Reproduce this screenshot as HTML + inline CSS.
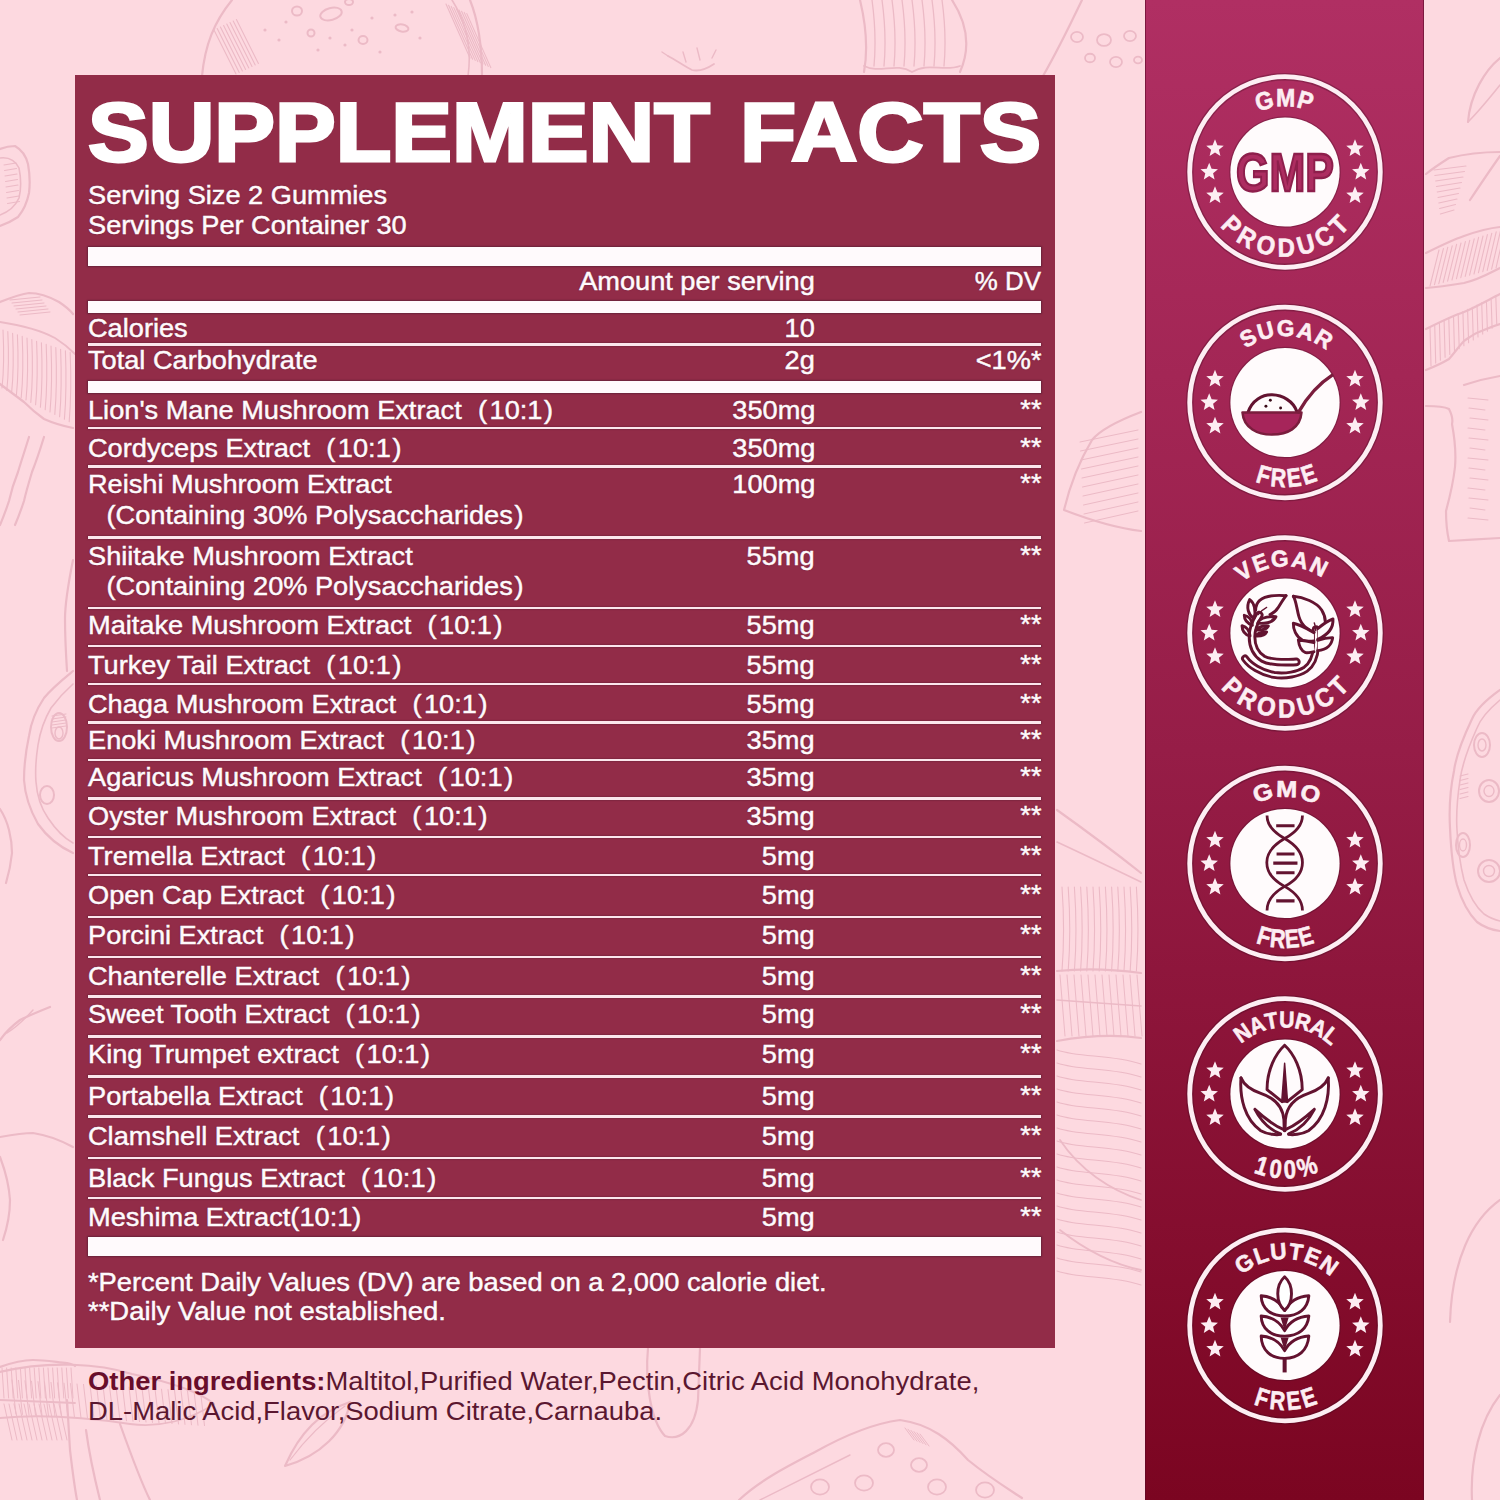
<!DOCTYPE html>
<html><head><meta charset="utf-8">
<style>
*{margin:0;padding:0;box-sizing:border-box}
html,body{width:1500px;height:1500px;overflow:hidden}
body{background:#fdd9e0;position:relative;font-family:"Liberation Sans",sans-serif}
#bg{position:absolute;left:0;top:0}
#panel{position:absolute;left:75px;top:75px;width:980px;height:1273px;background:#922c48}
#strip{position:absolute;left:1145px;top:0;width:279px;height:1500px;background:linear-gradient(180deg,#b02f63 0%,#961d47 50%,#7b0521 100%);box-shadow:inset 1px 0 0 rgba(90,10,40,.6),inset -1px 0 0 rgba(90,10,40,.6)}
.bar{position:absolute;left:88px;width:953.3px;background:#fffafc;box-shadow:0 0 1.2px 0.8px rgba(70,25,45,.5)}
.ln{position:absolute;left:88px;width:953.3px;height:2.3px;background:#fbe6ec;box-shadow:0 0 1.2px 0.6px rgba(70,25,45,.45)}
.t{position:absolute;white-space:nowrap;line-height:1;color:#fffafc;transform:scaleX(1.087);transform-origin:0 0;-webkit-text-stroke:0.45px #fffafc;text-shadow:0 0 1.5px rgba(60,15,35,.55)}
.t.r{transform-origin:100% 0}
.t i{font-style:normal;margin-left:15px;margin-right:2.3px}
.t i.l{margin-left:17px;margin-right:0}
.t b{font-weight:normal;margin-left:1.5px}
#title{position:absolute;left:88px;top:90px;font-size:84px;line-height:1;font-weight:bold;color:#fff;white-space:nowrap;transform:scaleX(1.083);transform-origin:0 0;-webkit-text-stroke:3px #fff;text-shadow:0 0 2px rgba(60,15,35,.6)}
#title2{position:absolute;left:740px;top:90px;font-size:84px;line-height:1;font-weight:bold;color:#fff;white-space:nowrap;transform:scaleX(1.0935);transform-origin:0 0;-webkit-text-stroke:3px #fff;text-shadow:0 0 2px rgba(60,15,35,.6)}
#other{position:absolute;left:88px;top:1366px;font-size:25px;line-height:30px;color:#5b1730;white-space:nowrap;transform:scaleX(1.096);transform-origin:0 0}
#other b{color:#680d2b}
</style></head><body>
<svg id="bg" width="1500" height="1500" viewBox="0 0 1500 1500"><g fill="none" stroke="#ecbac6" stroke-linecap="round" stroke-linejoin="round"><path d="M232,0 C214,22 205,45 202,76" stroke-width="2.2"/><path d="M470,0 C478,20 482,48 482,76" stroke-width="2.2"/><path d="M452,0 C466,22 472,48 468,76" stroke-width="1.6"/><path d="M214.0,30.0 L236.0,74.0" stroke-width="1.1"/><path d="M217.2,28.5 L239.2,72.5" stroke-width="1.1"/><path d="M220.4,27.0 L242.4,71.0" stroke-width="1.1"/><path d="M223.6,25.5 L245.6,69.5" stroke-width="1.1"/><path d="M226.8,24.0 L248.8,68.0" stroke-width="1.1"/><path d="M230.0,22.5 L252.0,66.5" stroke-width="1.1"/><path d="M233.2,21.0 L255.2,65.0" stroke-width="1.1"/><path d="M236.4,19.5 L258.4,63.5" stroke-width="1.1"/><path d="M446.0,4.0 L470.0,58.0" stroke-width="1.1"/><path d="M448.6,5.2 L472.6,59.2" stroke-width="1.1"/><path d="M451.2,6.4 L475.2,60.4" stroke-width="1.1"/><path d="M453.8,7.6 L477.8,61.6" stroke-width="1.1"/><path d="M456.4,8.8 L480.4,62.8" stroke-width="1.1"/><path d="M459.0,10.0 L483.0,64.0" stroke-width="1.1"/><path d="M461.6,11.2 L485.6,65.2" stroke-width="1.1"/><path d="M464.2,12.4 L488.2,66.4" stroke-width="1.1"/><path d="M466.8,13.6 L490.8,67.6" stroke-width="1.1"/><ellipse cx="331" cy="14" rx="11" ry="6" transform="rotate(-15 331 14)" stroke-width="2"/><ellipse cx="297" cy="11" rx="5" ry="4.5" transform="rotate(0 297 11)" stroke-width="2"/><ellipse cx="402" cy="28" rx="6.5" ry="3.5" transform="rotate(10 402 28)" stroke-width="2"/><ellipse cx="363" cy="40" rx="4.5" ry="4" transform="rotate(0 363 40)" stroke-width="2"/><ellipse cx="311" cy="33" rx="3.5" ry="3.5" transform="rotate(0 311 33)" stroke-width="2"/><ellipse cx="349" cy="2" rx="4" ry="3" transform="rotate(0 349 2)" stroke-width="2"/><circle cx="286" cy="22" r="1.6" fill="#ecbac6" stroke="none"/><circle cx="345" cy="45" r="1.6" fill="#ecbac6" stroke="none"/><circle cx="330" cy="38" r="1.6" fill="#ecbac6" stroke="none"/><circle cx="372" cy="18" r="1.6" fill="#ecbac6" stroke="none"/><circle cx="395" cy="15" r="1.6" fill="#ecbac6" stroke="none"/><circle cx="412" cy="12" r="1.6" fill="#ecbac6" stroke="none"/><circle cx="318" cy="50" r="1.6" fill="#ecbac6" stroke="none"/><circle cx="265" cy="30" r="1.6" fill="#ecbac6" stroke="none"/><circle cx="279" cy="40" r="1.6" fill="#ecbac6" stroke="none"/><circle cx="380" cy="52" r="1.6" fill="#ecbac6" stroke="none"/><circle cx="420" cy="38" r="1.6" fill="#ecbac6" stroke="none"/><circle cx="352" cy="30" r="1.6" fill="#ecbac6" stroke="none"/><path d="M668,56 C676,60 684,66 692,70 C700,72 708,68 714,64" stroke-width="1.8"/><path d="M683,52 L686,62 M697,48 L700,60 M712,58 L716,50 M668,56 L662,52" stroke-width="1.4"/><path d="M860,0 C866,25 868,50 864,72" stroke-width="2.2"/><path d="M952,0 C965,20 972,45 960,72" stroke-width="2.2"/><path d="M872,0 C875,22 876,44 874,66" stroke-width="1.3"/><path d="M882,0 C885,22 886,44 884,66" stroke-width="1.3"/><path d="M892,0 C895,22 896,44 894,66" stroke-width="1.3"/><path d="M902,0 C905,22 906,44 904,66" stroke-width="1.3"/><path d="M912,0 C915,22 916,44 914,66" stroke-width="1.3"/><path d="M922,0 C925,22 926,44 924,66" stroke-width="1.3"/><path d="M932,0 C935,22 936,44 934,66" stroke-width="1.3"/><path d="M942,0 C945,22 946,44 944,66" stroke-width="1.3"/><path d="M864,66 C880,74 896,62 912,72 C928,62 944,72 960,66" stroke-width="1.8"/><path d="M1082,0 C1070,25 1058,50 1043,76" stroke-width="2.2"/><ellipse cx="1077" cy="37" rx="6" ry="5.1" transform="rotate(0 1077 37)" stroke-width="1.8"/><ellipse cx="1104" cy="40" rx="7" ry="5.95" transform="rotate(0 1104 40)" stroke-width="1.8"/><ellipse cx="1130" cy="36" rx="6" ry="5.1" transform="rotate(0 1130 36)" stroke-width="1.8"/><ellipse cx="1090" cy="58" rx="5" ry="4.25" transform="rotate(0 1090 58)" stroke-width="1.8"/><ellipse cx="1116" cy="62" rx="6" ry="5.1" transform="rotate(0 1116 62)" stroke-width="1.8"/><ellipse cx="1138" cy="60" rx="4" ry="3.4" transform="rotate(0 1138 60)" stroke-width="1.8"/><path d="M1468,122 C1470,95 1485,70 1500,58" stroke-width="2.2"/><path d="M1468,122 C1480,110 1492,95 1500,85" stroke-width="1.6"/><path d="M1426,174 C1436,166 1446,160 1449,158 C1465,154 1485,152 1500,152" stroke-width="2.2"/><path d="M1470,200 C1480,185 1490,170 1500,156" stroke-width="2.2"/><path d="M1434.0,170.0 L1466.0,166.0" stroke-width="1.1"/><path d="M1434.8,175.5 L1464.5,171.5" stroke-width="1.1"/><path d="M1435.6,181.0 L1463.0,177.0" stroke-width="1.1"/><path d="M1436.4,186.5 L1461.5,182.5" stroke-width="1.1"/><path d="M1437.2,192.0 L1460.0,188.0" stroke-width="1.1"/><path d="M1438.0,197.5 L1458.5,193.5" stroke-width="1.1"/><path d="M1438.8,203.0 L1457.0,199.0" stroke-width="1.1"/><path d="M1439.6,208.5 L1455.5,204.5" stroke-width="1.1"/><path d="M1440.4,214.0 L1454.0,210.0" stroke-width="1.1"/><path d="M1426,253 C1440,246 1452,240 1464,236 C1478,231 1490,228 1500,227" stroke-width="2.2"/><path d="M1426,288 C1440,287 1452,285 1464,283 C1478,280 1490,273 1500,268" stroke-width="2.2"/><path d="M1430.0,286.0 L1439.0,250.0" stroke-width="1.1"/><path d="M1434.4,284.8 L1443.4,248.6" stroke-width="1.1"/><path d="M1438.8,283.6 L1447.8,247.2" stroke-width="1.1"/><path d="M1443.2,282.4 L1452.2,245.8" stroke-width="1.1"/><path d="M1447.6,281.2 L1456.6,244.4" stroke-width="1.1"/><path d="M1452.0,280.0 L1461.0,243.0" stroke-width="1.1"/><path d="M1456.4,278.8 L1465.4,241.6" stroke-width="1.1"/><path d="M1460.8,277.6 L1469.8,240.2" stroke-width="1.1"/><path d="M1465.2,276.4 L1474.2,238.8" stroke-width="1.1"/><path d="M1469.6,275.2 L1478.6,237.4" stroke-width="1.1"/><path d="M1474.0,274.0 L1483.0,236.0" stroke-width="1.1"/><path d="M1478.4,272.8 L1487.4,234.6" stroke-width="1.1"/><path d="M1482.8,271.6 L1491.8,233.2" stroke-width="1.1"/><path d="M1487.2,270.4 L1496.2,231.8" stroke-width="1.1"/><path d="M1491.6,269.2 L1500.6,230.4" stroke-width="1.1"/><path d="M1496.0,268.0 L1505.0,229.0" stroke-width="1.1"/><path d="M1426,329 C1440,322 1452,316 1464,312 C1478,306 1490,299 1500,294" stroke-width="2.2"/><path d="M1426,370 C1436,366 1444,362 1449,359 C1455,352 1460,345 1464,341 C1470,337 1475,333 1479,332 C1486,329 1493,326 1500,324" stroke-width="2.2"/><path d="M1430.0,327.0 L1431.0,366.0" stroke-width="1.1"/><path d="M1434.7,324.8 L1435.7,363.1" stroke-width="1.1"/><path d="M1439.4,322.6 L1440.4,360.2" stroke-width="1.1"/><path d="M1444.1,320.4 L1445.1,357.3" stroke-width="1.1"/><path d="M1448.8,318.2 L1449.8,354.4" stroke-width="1.1"/><path d="M1453.5,316.0 L1454.5,351.5" stroke-width="1.1"/><path d="M1458.2,313.8 L1459.2,348.6" stroke-width="1.1"/><path d="M1462.9,311.6 L1463.9,345.7" stroke-width="1.1"/><path d="M1467.6,309.4 L1468.6,342.8" stroke-width="1.1"/><path d="M1472.3,307.2 L1473.3,339.9" stroke-width="1.1"/><path d="M1477.0,305.0 L1478.0,337.0" stroke-width="1.1"/><path d="M1481.7,302.8 L1482.7,334.1" stroke-width="1.1"/><path d="M1486.4,300.6 L1487.4,331.2" stroke-width="1.1"/><path d="M1491.1,298.4 L1492.1,328.3" stroke-width="1.1"/><path d="M1495.8,296.2 L1496.8,325.4" stroke-width="1.1"/><path d="M1426,406 C1436,406 1445,407 1449,409 C1452,415 1453,420 1452,424 C1455,440 1456,455 1455,467 C1453,485 1449,500 1446,511 C1446,522 1447,532 1449,541 C1465,540 1485,539 1500,538" stroke-width="2.2"/><path d="M1464,385 C1476,381 1488,378 1500,376" stroke-width="2.2"/><path d="M1468.0,398.0 L1488.0,400.0" stroke-width="1.1"/><path d="M1469.0,408.0 L1485.0,410.0" stroke-width="1.1"/><path d="M1470.0,418.0 L1488.0,420.0" stroke-width="1.1"/><path d="M1468.0,428.0 L1485.0,430.0" stroke-width="1.1"/><path d="M1469.0,438.0 L1488.0,440.0" stroke-width="1.1"/><path d="M1470.0,448.0 L1485.0,450.0" stroke-width="1.1"/><path d="M1468.0,458.0 L1488.0,460.0" stroke-width="1.1"/><path d="M1469.0,468.0 L1485.0,470.0" stroke-width="1.1"/><path d="M1470.0,478.0 L1488.0,480.0" stroke-width="1.1"/><path d="M1468.0,488.0 L1485.0,490.0" stroke-width="1.1"/><path d="M1469.0,498.0 L1488.0,500.0" stroke-width="1.1"/><path d="M1470.0,508.0 L1485.0,510.0" stroke-width="1.1"/><path d="M1468.0,518.0 L1488.0,520.0" stroke-width="1.1"/><path d="M1500,690 C1486,700 1476,710 1472,719 C1462,740 1456,755 1454,771 C1450,790 1449,810 1450,828 C1451,850 1453,870 1457,885 C1463,905 1470,915 1477,922 C1485,928 1493,930 1500,931" stroke-width="2.2"/><path d="M1500,700 C1488,710 1480,720 1477,728 C1468,748 1462,765 1460,780 C1457,800 1456,815 1457,830 C1458,850 1461,868 1464,880 C1470,898 1477,908 1484,914 C1490,918 1495,920 1500,921" stroke-width="1.6"/><ellipse cx="1482" cy="745" rx="8" ry="12" transform="rotate(0 1482 745)" stroke-width="2"/><ellipse cx="1482" cy="745" rx="4.0" ry="6.0" transform="rotate(0 1482 745)" stroke-width="1.4"/><ellipse cx="1489" cy="791" rx="10" ry="11" transform="rotate(0 1489 791)" stroke-width="2"/><ellipse cx="1489" cy="791" rx="5.0" ry="5.5" transform="rotate(0 1489 791)" stroke-width="1.4"/><ellipse cx="1463" cy="845" rx="7" ry="12" transform="rotate(0 1463 845)" stroke-width="2"/><ellipse cx="1463" cy="845" rx="3.5" ry="6.0" transform="rotate(0 1463 845)" stroke-width="1.4"/><ellipse cx="1489" cy="871" rx="11" ry="11" transform="rotate(0 1489 871)" stroke-width="2"/><ellipse cx="1489" cy="871" rx="5.5" ry="5.5" transform="rotate(0 1489 871)" stroke-width="1.4"/><path d="M1460.0,776.0 L1468.0,774.0" stroke-width="1.1"/><path d="M1460.0,780.5 L1468.0,778.5" stroke-width="1.1"/><path d="M1460.0,785.0 L1468.0,783.0" stroke-width="1.1"/><path d="M1460.0,789.5 L1468.0,787.5" stroke-width="1.1"/><path d="M1460.0,794.0 L1468.0,792.0" stroke-width="1.1"/><path d="M1460.0,798.5 L1468.0,796.5" stroke-width="1.1"/><path d="M1500,1200 C1472,1220 1452,1260 1450,1322" stroke-width="2.2"/><path d="M1500,1395 C1480,1420 1470,1460 1472,1500" stroke-width="2.2"/><path d="M0,149 C5,147 10,146 15,146 C22,150 26,156 28,164 C30,175 30,185 29,193 C27,203 23,211 18,217 C12,221 6,224 0,226" stroke-width="2.2"/><path d="M0,158 C8,157 15,160 19,168 C21,178 21,190 19,198 C15,207 8,212 0,215" stroke-width="1.6"/><path d="M4.0,165.0 L16.0,163.0" stroke-width="1.1"/><path d="M4.5,170.5 L16.5,168.5" stroke-width="1.1"/><path d="M5.0,176.0 L17.0,174.0" stroke-width="1.1"/><path d="M5.5,181.5 L17.5,179.5" stroke-width="1.1"/><path d="M6.0,187.0 L18.0,185.0" stroke-width="1.1"/><path d="M6.5,192.5 L18.5,190.5" stroke-width="1.1"/><path d="M7.0,198.0 L19.0,196.0" stroke-width="1.1"/><path d="M7.5,203.5 L19.5,201.5" stroke-width="1.1"/><path d="M0,302 C10,298 20,294 29,293 C40,293 50,297 59,302 C65,306 70,310 73,314" stroke-width="2.2"/><path d="M0,322 C20,325 40,330 55,338 C63,343 70,349 75,354" stroke-width="1.8"/><path d="M0,384 C8,390 16,396 24,402 C30,408 37,414 44,419 C53,423 63,426 73,428" stroke-width="2.2"/><path d="M3.0,330.0 C4.0,350.0 4.0,370.0 2.0,388.0" stroke-width="1.1"/><path d="M7.8,331.6 C8.8,352.0 8.8,372.0 6.8,390.4" stroke-width="1.1"/><path d="M12.6,333.2 C13.6,354.0 13.6,374.0 11.6,392.8" stroke-width="1.1"/><path d="M17.4,334.8 C18.4,356.0 18.4,376.0 16.4,395.2" stroke-width="1.1"/><path d="M22.2,336.4 C23.2,358.0 23.2,378.0 21.2,397.6" stroke-width="1.1"/><path d="M27.0,338.0 C28.0,360.0 28.0,380.0 26.0,400.0" stroke-width="1.1"/><path d="M31.8,339.6 C32.8,362.0 32.8,382.0 30.8,402.4" stroke-width="1.1"/><path d="M36.6,341.2 C37.6,364.0 37.6,384.0 35.6,404.8" stroke-width="1.1"/><path d="M41.4,342.8 C42.4,366.0 42.4,386.0 40.4,407.2" stroke-width="1.1"/><path d="M46.2,344.4 C47.2,368.0 47.2,388.0 45.2,409.6" stroke-width="1.1"/><path d="M51.0,346.0 C52.0,370.0 52.0,390.0 50.0,412.0" stroke-width="1.1"/><path d="M55.8,347.6 C56.8,372.0 56.8,392.0 54.8,414.4" stroke-width="1.1"/><path d="M60.6,349.2 C61.6,374.0 61.6,394.0 59.6,416.8" stroke-width="1.1"/><path d="M65.4,350.8 C66.4,376.0 66.4,396.0 64.4,419.2" stroke-width="1.1"/><path d="M70.2,352.4 C71.2,378.0 71.2,398.0 69.2,421.6" stroke-width="1.1"/><path d="M10.0,300.0 L40.0,297.0" stroke-width="1.0"/><path d="M12.0,303.0 L42.0,300.0" stroke-width="1.0"/><path d="M14.0,306.0 L44.0,303.0" stroke-width="1.0"/><path d="M16.0,309.0 L46.0,306.0" stroke-width="1.0"/><path d="M18.0,312.0 L48.0,309.0" stroke-width="1.0"/><path d="M20.0,315.0 L50.0,312.0" stroke-width="1.0"/><path d="M29,437 C25,450 21,462 18,472 C14,482 11,492 9,501 C6,510 3,518 0,525" stroke-width="2.2"/><path d="M44,437 C40,450 36,462 32,472 C29,482 26,492 24,501 C21,510 18,518 15,525" stroke-width="2.2"/><path d="M73,560 C69,580 65,600 65,619 C65,637 66,655 67,671" stroke-width="2.2"/><path d="M73,671 C62,680 52,688 44,698 C36,710 31,722 29,736 C26,750 24,765 24,780 C25,795 30,810 38,824 C48,838 60,847 73,853" stroke-width="2.2"/><path d="M73,684 C64,692 57,700 51,708 C44,720 40,732 38,745 C36,758 35,770 36,782 C37,796 41,808 48,818 C56,830 64,838 73,843" stroke-width="1.6"/><ellipse cx="59" cy="727" rx="8" ry="14" transform="rotate(0 59 727)" stroke-width="2"/><ellipse cx="59" cy="733" rx="4" ry="6" transform="rotate(0 59 733)" stroke-width="1.4"/><path d="M52.0,716.0 L66.0,714.0" stroke-width="1.0"/><path d="M52.0,719.0 L66.0,717.0" stroke-width="1.0"/><path d="M52.0,722.0 L66.0,720.0" stroke-width="1.0"/><path d="M52.0,725.0 L66.0,723.0" stroke-width="1.0"/><path d="M52.0,728.0 L66.0,726.0" stroke-width="1.0"/><ellipse cx="47" cy="795" rx="7" ry="9" transform="rotate(0 47 795)" stroke-width="2"/><path d="M0,809 C4,815 7,822 9,830 C11,838 12,846 12,853 C11,863 9,873 6,883" stroke-width="2.2"/><path d="M50,1007 C40,1011 30,1015 20,1020 C12,1026 5,1033 0,1040" stroke-width="2.2"/><path d="M33,1010 C24,1020 15,1028 7,1033" stroke-width="1.4"/><path d="M0,1137 C11,1135 22,1133 33,1133 C47,1135 60,1140 73,1147" stroke-width="2.2"/><path d="M0,1157 C5,1170 9,1185 10,1200 C10,1215 7,1228 3,1240" stroke-width="2.2"/><path d="M0,1367 C11,1363 22,1360 33,1360 C45,1360 56,1362 67,1363 C71,1364 74,1365 75,1366" stroke-width="2.2"/><path d="M0,1400 C27,1401 53,1402 75,1403" stroke-width="1.8"/><path d="M2.0,1368.0 L4.0,1398.0" stroke-width="1.0"/><path d="M6.6,1368.0 L8.6,1398.0" stroke-width="1.0"/><path d="M11.2,1368.0 L13.2,1398.0" stroke-width="1.0"/><path d="M15.8,1368.0 L17.8,1398.0" stroke-width="1.0"/><path d="M20.4,1368.0 L22.4,1398.0" stroke-width="1.0"/><path d="M25.0,1368.0 L27.0,1398.0" stroke-width="1.0"/><path d="M29.6,1368.0 L31.6,1398.0" stroke-width="1.0"/><path d="M34.2,1368.0 L36.2,1398.0" stroke-width="1.0"/><path d="M38.8,1368.0 L40.8,1398.0" stroke-width="1.0"/><path d="M43.4,1368.0 L45.4,1398.0" stroke-width="1.0"/><path d="M48.0,1368.0 L50.0,1398.0" stroke-width="1.0"/><path d="M52.6,1368.0 L54.6,1398.0" stroke-width="1.0"/><path d="M57.2,1368.0 L59.2,1398.0" stroke-width="1.0"/><path d="M61.8,1368.0 L63.8,1398.0" stroke-width="1.0"/><path d="M66.4,1368.0 L68.4,1398.0" stroke-width="1.0"/><path d="M71.0,1368.0 L73.0,1398.0" stroke-width="1.0"/><path d="M4.0,1404.0 L12.0,1440.0" stroke-width="1.0"/><path d="M9.0,1404.0 L17.0,1440.0" stroke-width="1.0"/><path d="M14.0,1404.0 L22.0,1440.0" stroke-width="1.0"/><path d="M19.0,1404.0 L27.0,1440.0" stroke-width="1.0"/><path d="M24.0,1404.0 L32.0,1440.0" stroke-width="1.0"/><path d="M29.0,1404.0 L37.0,1440.0" stroke-width="1.0"/><path d="M34.0,1404.0 L42.0,1440.0" stroke-width="1.0"/><path d="M39.0,1404.0 L47.0,1440.0" stroke-width="1.0"/><path d="M44.0,1404.0 L52.0,1440.0" stroke-width="1.0"/><path d="M49.0,1404.0 L57.0,1440.0" stroke-width="1.0"/><path d="M54.0,1404.0 L62.0,1440.0" stroke-width="1.0"/><path d="M59.0,1404.0 L67.0,1440.0" stroke-width="1.0"/><path d="M67,1400 C68,1417 69,1434 70,1450 C72,1467 74,1484 77,1500" stroke-width="2.2"/><path d="M0,1372 C50,1360 100,1364 132,1374 C170,1382 200,1392 214,1404" stroke-width="2.2"/><path d="M0,1418 C40,1414 90,1418 130,1424 C160,1428 190,1420 214,1404" stroke-width="1.8"/><path d="M12.0,1380.0 L16.0,1414.0" stroke-width="1.0"/><path d="M18.5,1380.4 L22.5,1414.4" stroke-width="1.0"/><path d="M25.0,1380.8 L29.0,1414.8" stroke-width="1.0"/><path d="M31.5,1381.2 L35.5,1415.2" stroke-width="1.0"/><path d="M38.0,1381.6 L42.0,1415.6" stroke-width="1.0"/><path d="M44.5,1382.0 L48.5,1416.0" stroke-width="1.0"/><path d="M51.0,1382.4 L55.0,1416.4" stroke-width="1.0"/><path d="M57.5,1382.8 L61.5,1416.8" stroke-width="1.0"/><path d="M64.0,1383.2 L68.0,1417.2" stroke-width="1.0"/><path d="M70.5,1383.6 L74.5,1417.6" stroke-width="1.0"/><path d="M77.0,1384.0 L81.0,1418.0" stroke-width="1.0"/><path d="M83.5,1384.4 L87.5,1418.4" stroke-width="1.0"/><path d="M90.0,1384.8 L94.0,1418.8" stroke-width="1.0"/><path d="M96.5,1385.2 L100.5,1419.2" stroke-width="1.0"/><path d="M103.0,1385.6 L107.0,1419.6" stroke-width="1.0"/><path d="M109.5,1386.0 L113.5,1420.0" stroke-width="1.0"/><path d="M116.0,1386.4 L120.0,1420.4" stroke-width="1.0"/><path d="M122.5,1386.8 L126.5,1420.8" stroke-width="1.0"/><path d="M129.0,1387.2 L133.0,1421.2" stroke-width="1.0"/><path d="M135.5,1387.6 L139.5,1421.6" stroke-width="1.0"/><path d="M142.0,1388.0 L146.0,1422.0" stroke-width="1.0"/><path d="M148.5,1388.4 L152.5,1422.4" stroke-width="1.0"/><path d="M155.0,1388.8 L159.0,1422.8" stroke-width="1.0"/><path d="M161.5,1389.2 L165.5,1423.2" stroke-width="1.0"/><path d="M168.0,1389.6 L172.0,1423.6" stroke-width="1.0"/><path d="M174.5,1390.0 L178.5,1424.0" stroke-width="1.0"/><path d="M181.0,1390.4 L185.0,1424.4" stroke-width="1.0"/><path d="M187.5,1390.8 L191.5,1424.8" stroke-width="1.0"/><path d="M194.0,1391.2 L198.0,1425.2" stroke-width="1.0"/><path d="M200.5,1391.6 L204.5,1425.6" stroke-width="1.0"/><path d="M120,1424 C130,1452 140,1480 150,1500" stroke-width="2.2"/><path d="M86,1430 C90,1460 95,1480 100,1500" stroke-width="2.2"/><path d="M285,1466 C300,1432 320,1412 350,1402 C345,1432 320,1456 285,1466 Z" stroke-width="2.2"/><path d="M290,1460 C305,1440 325,1420 345,1406" stroke-width="1.2"/><path d="M648,1348 C645,1380 650,1420 665,1436 C680,1441 695,1430 698,1400 L700,1348" stroke-width="2.2"/><path d="M739,1500 C760,1480 790,1465 815,1452 C840,1438 870,1424 900,1420 C930,1424 950,1440 968,1460 C990,1478 1010,1490 1022,1498" stroke-width="2.2"/><path d="M760,1500 C790,1485 820,1470 850,1455" stroke-width="1.4"/><ellipse cx="886" cy="1450" rx="8" ry="6.8" transform="rotate(0 886 1450)" stroke-width="1.8"/><ellipse cx="919" cy="1465" rx="8" ry="6.8" transform="rotate(0 919 1465)" stroke-width="1.8"/><ellipse cx="820" cy="1487" rx="9" ry="7.6499999999999995" transform="rotate(0 820 1487)" stroke-width="1.8"/><ellipse cx="864" cy="1483" rx="9" ry="7.6499999999999995" transform="rotate(0 864 1483)" stroke-width="1.8"/><ellipse cx="937" cy="1487" rx="9" ry="7.6499999999999995" transform="rotate(0 937 1487)" stroke-width="1.8"/><ellipse cx="985" cy="1490" rx="9" ry="7.6499999999999995" transform="rotate(0 985 1490)" stroke-width="1.8"/><path d="M905.0,1428.0 L914.0,1440.0" stroke-width="1.0"/><path d="M908.0,1429.2 L917.0,1441.2" stroke-width="1.0"/><path d="M911.0,1430.4 L920.0,1442.4" stroke-width="1.0"/><path d="M914.0,1431.6 L923.0,1443.6" stroke-width="1.0"/><path d="M917.0,1432.8 L926.0,1444.8" stroke-width="1.0"/><path d="M920.0,1434.0 L929.0,1446.0" stroke-width="1.0"/><path d="M1141,412 C1120,420 1100,430 1092,440 C1080,460 1070,485 1064,510 C1090,520 1115,528 1141,531" stroke-width="2.2"/><path d="M1080.0,442.0 L1138.0,430.0" stroke-width="1.0"/><path d="M1080.5,451.0 L1138.0,439.0" stroke-width="1.0"/><path d="M1081.0,460.0 L1138.0,448.0" stroke-width="1.0"/><path d="M1081.5,469.0 L1138.0,457.0" stroke-width="1.0"/><path d="M1082.0,478.0 L1138.0,466.0" stroke-width="1.0"/><path d="M1082.5,487.0 L1138.0,475.0" stroke-width="1.0"/><path d="M1083.0,496.0 L1138.0,484.0" stroke-width="1.0"/><path d="M1083.5,505.0 L1138.0,493.0" stroke-width="1.0"/><path d="M1084.0,514.0 L1138.0,502.0" stroke-width="1.0"/><path d="M1084.5,523.0 L1138.0,511.0" stroke-width="1.0"/><path d="M1057,810 C1085,830 1112,850 1141,873" stroke-width="2.2"/><path d="M1057,842 C1085,855 1112,868 1141,882" stroke-width="1.6"/><path d="M1062.0,887.0 C1064.0,915.0 1064.0,945.0 1062.0,971.0" stroke-width="1.1"/><path d="M1068.2,887.0 C1070.2,915.0 1070.2,945.0 1068.2,971.0" stroke-width="1.1"/><path d="M1074.4,887.0 C1076.4,915.0 1076.4,945.0 1074.4,971.0" stroke-width="1.1"/><path d="M1080.6,887.0 C1082.6,915.0 1082.6,945.0 1080.6,971.0" stroke-width="1.1"/><path d="M1086.8,887.0 C1088.8,915.0 1088.8,945.0 1086.8,971.0" stroke-width="1.1"/><path d="M1093.0,887.0 C1095.0,915.0 1095.0,945.0 1093.0,971.0" stroke-width="1.1"/><path d="M1099.2,887.0 C1101.2,915.0 1101.2,945.0 1099.2,971.0" stroke-width="1.1"/><path d="M1105.4,887.0 C1107.4,915.0 1107.4,945.0 1105.4,971.0" stroke-width="1.1"/><path d="M1111.6,887.0 C1113.6,915.0 1113.6,945.0 1111.6,971.0" stroke-width="1.1"/><path d="M1117.8,887.0 C1119.8,915.0 1119.8,945.0 1117.8,971.0" stroke-width="1.1"/><path d="M1124.0,887.0 C1126.0,915.0 1126.0,945.0 1124.0,971.0" stroke-width="1.1"/><path d="M1130.2,887.0 C1132.2,915.0 1132.2,945.0 1130.2,971.0" stroke-width="1.1"/><path d="M1136.4,887.0 C1138.4,915.0 1138.4,945.0 1136.4,971.0" stroke-width="1.1"/><path d="M1057,971 C1085,968 1112,969 1141,973" stroke-width="2.2"/><path d="M1057,1000 C1085,1002 1112,1004 1141,1006" stroke-width="1.6"/><path d="M1057,1041 C1085,1036 1112,1034 1141,1038" stroke-width="2.2"/><path d="M1060.0,975.0 L1065.0,1036.0" stroke-width="1.0"/><path d="M1067.0,975.0 L1072.0,1036.0" stroke-width="1.0"/><path d="M1074.0,975.0 L1079.0,1036.0" stroke-width="1.0"/><path d="M1081.0,975.0 L1086.0,1036.0" stroke-width="1.0"/><path d="M1088.0,975.0 L1093.0,1036.0" stroke-width="1.0"/><path d="M1095.0,975.0 L1100.0,1036.0" stroke-width="1.0"/><path d="M1102.0,975.0 L1107.0,1036.0" stroke-width="1.0"/><path d="M1109.0,975.0 L1114.0,1036.0" stroke-width="1.0"/><path d="M1116.0,975.0 L1121.0,1036.0" stroke-width="1.0"/><path d="M1123.0,975.0 L1128.0,1036.0" stroke-width="1.0"/><path d="M1130.0,975.0 L1135.0,1036.0" stroke-width="1.0"/><path d="M1137.0,975.0 L1142.0,1036.0" stroke-width="1.0"/><path d="M1057,1050.0 C1080,1058.0 1110,1054.0 1141,1064.0" stroke-width="1.1"/><path d="M1057,1063.0 C1080,1071.0 1110,1067.0 1141,1077.0" stroke-width="1.1"/><path d="M1057,1076.0 C1080,1084.0 1110,1080.0 1141,1090.0" stroke-width="1.1"/><path d="M1057,1089.0 C1080,1097.0 1110,1093.0 1141,1103.0" stroke-width="1.1"/><path d="M1057,1102.0 C1080,1110.0 1110,1106.0 1141,1116.0" stroke-width="1.1"/><path d="M1057,1115.0 C1080,1123.0 1110,1119.0 1141,1129.0" stroke-width="1.1"/><path d="M1057,1128.0 C1080,1136.0 1110,1132.0 1141,1142.0" stroke-width="1.1"/><path d="M1057,1141.0 C1080,1149.0 1110,1145.0 1141,1155.0" stroke-width="1.1"/><path d="M1057,1154.0 C1080,1162.0 1110,1158.0 1141,1168.0" stroke-width="1.1"/><path d="M1057,1167.0 C1080,1175.0 1110,1171.0 1141,1181.0" stroke-width="1.1"/><path d="M1057,1180.0 C1080,1188.0 1110,1184.0 1141,1194.0" stroke-width="1.1"/><path d="M1057,1193.0 C1080,1201.0 1110,1197.0 1141,1207.0" stroke-width="1.1"/><path d="M1057,1206.0 C1080,1214.0 1110,1210.0 1141,1220.0" stroke-width="1.1"/><path d="M1057,1219.0 C1080,1227.0 1110,1223.0 1141,1233.0" stroke-width="1.1"/><path d="M1057,1232.0 C1080,1240.0 1110,1236.0 1141,1246.0" stroke-width="1.1"/><path d="M1057,1245.0 C1080,1253.0 1110,1249.0 1141,1259.0" stroke-width="1.1"/><path d="M1057,1258.0 C1080,1266.0 1110,1262.0 1141,1272.0" stroke-width="1.1"/><path d="M1057,1271.0 C1080,1279.0 1110,1275.0 1141,1285.0" stroke-width="1.1"/><path d="M1060,1140 C1080,1170 1110,1190 1141,1200" stroke-width="1.8"/><path d="M1060,1230 C1085,1250 1115,1265 1141,1270" stroke-width="1.8"/></g></svg>
<div id="panel"></div>
<div id="title">SUPPLEMENT</div><div id="title2" class="tt">FACTS</div>
<div class="bar" style="top:246.9px;height:18.7px"></div>
<div class="bar" style="top:300.7px;height:12.1px"></div>
<div class="bar" style="top:381.2px;height:11.5px"></div>
<div class="bar" style="top:1236.7px;height:19.2px"></div>
<div class="ln" style="top:343.3px"></div>
<div class="ln" style="top:426.8px"></div>
<div class="ln" style="top:465.4px"></div>
<div class="ln" style="top:536.4px"></div>
<div class="ln" style="top:606.9px"></div>
<div class="ln" style="top:644.9px"></div>
<div class="ln" style="top:682.9px"></div>
<div class="ln" style="top:721.3px"></div>
<div class="ln" style="top:758.9px"></div>
<div class="ln" style="top:797.3px"></div>
<div class="ln" style="top:835.5px"></div>
<div class="ln" style="top:873.9px"></div>
<div class="ln" style="top:915.5px"></div>
<div class="ln" style="top:955.5px"></div>
<div class="ln" style="top:995.3px"></div>
<div class="ln" style="top:1035.3px"></div>
<div class="ln" style="top:1075.3px"></div>
<div class="ln" style="top:1115.3px"></div>
<div class="ln" style="top:1156.9px"></div>
<div class="ln" style="top:1196.9px"></div>
<div class="t" style="left:88px;top:183.3px;font-size:25px;">Serving Size 2 Gummies</div>
<div class="t" style="left:88px;top:213.3px;font-size:25px;">Servings Per Container 30</div>
<div class="t r" style="right:685px;top:269.3px;font-size:25px;">Amount per serving</div>
<div class="t r" style="right:459px;top:269.3px;font-size:25px;transform:scaleX(1.035)">% DV</div>
<div class="t" style="left:88px;top:315.8px;font-size:25px;">Calories</div>
<div class="t r" style="right:685px;top:315.8px;font-size:25px;">10</div>
<div class="t" style="left:88px;top:348.3px;font-size:25px;">Total Carbohydrate</div>
<div class="t r" style="right:685px;top:348.3px;font-size:25px;">2g</div>
<div class="t r" style="right:459px;top:348.3px;font-size:25px;">&lt;1%*</div>
<div class="t" style="left:88px;top:397.8px;font-size:25px;">Lion's Mane Mushroom Extract<i>(</i>10:1<b>)</b></div>
<div class="t r" style="right:685px;top:397.8px;font-size:25px;">350mg</div>
<div class="t st r" style="right:459px;top:396.8px;font-size:25px;">**</div>
<div class="t" style="left:88px;top:435.8px;font-size:25px;">Cordyceps Extract<i>(</i>10:1<b>)</b></div>
<div class="t r" style="right:685px;top:435.8px;font-size:25px;">350mg</div>
<div class="t st r" style="right:459px;top:434.8px;font-size:25px;">**</div>
<div class="t" style="left:88px;top:472.3px;font-size:25px;">Reishi Mushroom Extract</div>
<div class="t r" style="right:685px;top:472.3px;font-size:25px;">100mg</div>
<div class="t st r" style="right:459px;top:471.3px;font-size:25px;">**</div>
<div class="t" style="left:88px;top:502.8px;font-size:25px;"><i class=l>(</i>Containing 30% Polysaccharides<b>)</b></div>
<div class="t" style="left:88px;top:543.8px;font-size:25px;">Shiitake Mushroom Extract</div>
<div class="t r" style="right:685px;top:543.8px;font-size:25px;">55mg</div>
<div class="t st r" style="right:459px;top:542.8px;font-size:25px;">**</div>
<div class="t" style="left:88px;top:574.3px;font-size:25px;"><i class=l>(</i>Containing 20% Polysaccharides<b>)</b></div>
<div class="t" style="left:88px;top:613.3px;font-size:25px;">Maitake Mushroom Extract<i>(</i>10:1<b>)</b></div>
<div class="t r" style="right:685px;top:613.3px;font-size:25px;">55mg</div>
<div class="t st r" style="right:459px;top:612.3px;font-size:25px;">**</div>
<div class="t" style="left:88px;top:653.3px;font-size:25px;">Turkey Tail Extract<i>(</i>10:1<b>)</b></div>
<div class="t r" style="right:685px;top:653.3px;font-size:25px;">55mg</div>
<div class="t st r" style="right:459px;top:652.3px;font-size:25px;">**</div>
<div class="t" style="left:88px;top:692.3px;font-size:25px;">Chaga Mushroom Extract<i>(</i>10:1<b>)</b></div>
<div class="t r" style="right:685px;top:692.3px;font-size:25px;">55mg</div>
<div class="t st r" style="right:459px;top:691.3px;font-size:25px;">**</div>
<div class="t" style="left:88px;top:728.3px;font-size:25px;">Enoki Mushroom Extract<i>(</i>10:1<b>)</b></div>
<div class="t r" style="right:685px;top:728.3px;font-size:25px;">35mg</div>
<div class="t st r" style="right:459px;top:727.3px;font-size:25px;">**</div>
<div class="t" style="left:88px;top:765.3px;font-size:25px;">Agaricus Mushroom Extract<i>(</i>10:1<b>)</b></div>
<div class="t r" style="right:685px;top:765.3px;font-size:25px;">35mg</div>
<div class="t st r" style="right:459px;top:764.3px;font-size:25px;">**</div>
<div class="t" style="left:88px;top:804.3px;font-size:25px;">Oyster Mushroom Extract<i>(</i>10:1<b>)</b></div>
<div class="t r" style="right:685px;top:804.3px;font-size:25px;">35mg</div>
<div class="t st r" style="right:459px;top:803.3px;font-size:25px;">**</div>
<div class="t" style="left:88px;top:843.8px;font-size:25px;">Tremella Extract<i>(</i>10:1<b>)</b></div>
<div class="t r" style="right:685px;top:843.8px;font-size:25px;">5mg</div>
<div class="t st r" style="right:459px;top:842.8px;font-size:25px;">**</div>
<div class="t" style="left:88px;top:883.3px;font-size:25px;">Open Cap Extract<i>(</i>10:1<b>)</b></div>
<div class="t r" style="right:685px;top:883.3px;font-size:25px;">5mg</div>
<div class="t st r" style="right:459px;top:882.3px;font-size:25px;">**</div>
<div class="t" style="left:88px;top:923.3px;font-size:25px;">Porcini Extract<i>(</i>10:1<b>)</b></div>
<div class="t r" style="right:685px;top:923.3px;font-size:25px;">5mg</div>
<div class="t st r" style="right:459px;top:922.3px;font-size:25px;">**</div>
<div class="t" style="left:88px;top:963.8px;font-size:25px;">Chanterelle Extract<i>(</i>10:1<b>)</b></div>
<div class="t r" style="right:685px;top:963.8px;font-size:25px;">5mg</div>
<div class="t st r" style="right:459px;top:962.8px;font-size:25px;">**</div>
<div class="t" style="left:88px;top:1002.3px;font-size:25px;">Sweet Tooth Extract<i>(</i>10:1<b>)</b></div>
<div class="t r" style="right:685px;top:1002.3px;font-size:25px;">5mg</div>
<div class="t st r" style="right:459px;top:1001.3px;font-size:25px;">**</div>
<div class="t" style="left:88px;top:1042.3px;font-size:25px;">King Trumpet extract<i>(</i>10:1<b>)</b></div>
<div class="t r" style="right:685px;top:1042.3px;font-size:25px;">5mg</div>
<div class="t st r" style="right:459px;top:1041.3px;font-size:25px;">**</div>
<div class="t" style="left:88px;top:1083.8px;font-size:25px;">Portabella Extract<i>(</i>10:1<b>)</b></div>
<div class="t r" style="right:685px;top:1083.8px;font-size:25px;">5mg</div>
<div class="t st r" style="right:459px;top:1082.8px;font-size:25px;">**</div>
<div class="t" style="left:88px;top:1123.8px;font-size:25px;">Clamshell Extract<i>(</i>10:1<b>)</b></div>
<div class="t r" style="right:685px;top:1123.8px;font-size:25px;">5mg</div>
<div class="t st r" style="right:459px;top:1122.8px;font-size:25px;">**</div>
<div class="t" style="left:88px;top:1165.8px;font-size:25px;">Black Fungus Extract<i>(</i>10:1<b>)</b></div>
<div class="t r" style="right:685px;top:1165.8px;font-size:25px;">5mg</div>
<div class="t st r" style="right:459px;top:1164.8px;font-size:25px;">**</div>
<div class="t" style="left:88px;top:1204.8px;font-size:25px;">Meshima Extract(10:1)</div>
<div class="t r" style="right:685px;top:1204.8px;font-size:25px;">5mg</div>
<div class="t st r" style="right:459px;top:1203.8px;font-size:25px;">**</div>
<div class="t" style="left:88px;top:1270.3px;font-size:25px;transform:scaleX(1.092)">*Percent Daily Values (DV) are based on a 2,000 calorie diet.</div>
<div class="t" style="left:88px;top:1299.3px;font-size:25px;transform:scaleX(1.097)">**Daily Value not established.</div>
<div id="other"><b>Other ingredients:</b>Maltitol,Purified Water,Pectin,Citric Acid Monohydrate,<br>DL-Malic Acid,Flavor,Sodium Citrate,Carnauba.</div>
<div id="strip"></div>
<svg id="badges" width="1500" height="1500" viewBox="0 0 1500 1500" style="position:absolute;left:0;top:0">
<g font-family="Liberation Sans" font-weight="bold" fill="#fdeef3">
<circle cx="1285" cy="172" r="95.3" fill="none" stroke="#3c0a1e" stroke-opacity="0.3" stroke-width="7.5"/>
<circle cx="1285" cy="172" r="95.3" fill="none" stroke="#fdeef3" stroke-width="4.8"/>
<circle cx="1285" cy="172" r="55.8" fill="#3c0a1e" fill-opacity="0.3"/>
<circle cx="1285" cy="172" r="54.6" fill="#fffbfc"/>
<polygon points="1215.00,139.30 1217.41,145.18 1223.75,145.66 1218.90,149.77 1220.41,155.94 1215.00,152.60 1209.59,155.94 1211.10,149.77 1206.25,145.66 1212.59,145.18"/><polygon points="1209.20,162.80 1211.61,168.68 1217.95,169.16 1213.10,173.27 1214.61,179.44 1209.20,176.10 1203.79,179.44 1205.30,173.27 1200.45,169.16 1206.79,168.68"/><polygon points="1215.00,186.30 1217.41,192.18 1223.75,192.66 1218.90,196.77 1220.41,202.94 1215.00,199.60 1209.59,202.94 1211.10,196.77 1206.25,192.66 1212.59,192.18"/><polygon points="1355.00,139.30 1357.41,145.18 1363.75,145.66 1358.90,149.77 1360.41,155.94 1355.00,152.60 1349.59,155.94 1351.10,149.77 1346.25,145.66 1352.59,145.18"/><polygon points="1360.80,162.80 1363.21,168.68 1369.55,169.16 1364.70,173.27 1366.21,179.44 1360.80,176.10 1355.39,179.44 1356.90,173.27 1352.05,169.16 1358.39,168.68"/><polygon points="1355.00,186.30 1357.41,192.18 1363.75,192.66 1358.90,196.77 1360.41,202.94 1355.00,199.60 1349.59,202.94 1351.10,196.77 1346.25,192.66 1352.59,192.18"/>
<g class="arcg"><text class="al" transform="translate(1266.64,108.92) rotate(-16.23) scale(0.92,1)" font-size="25" text-anchor="middle" stroke="#fdeef3" stroke-width="0.6">G</text><text class="al" transform="translate(1285.46,106.30) rotate(0.40) scale(0.92,1)" font-size="25" text-anchor="middle" stroke="#fdeef3" stroke-width="0.6">M</text><text class="al" transform="translate(1303.03,108.82) rotate(15.93) scale(0.92,1)" font-size="25" text-anchor="middle" stroke="#fdeef3" stroke-width="0.6">P</text></g>
<g class="arcg"><text class="al" transform="translate(1225.40,231.90) rotate(44.86) scale(0.92,1)" font-size="26" text-anchor="middle" stroke="#fdeef3" stroke-width="0.6">P</text><text class="al" transform="translate(1242.49,245.03) rotate(30.20) scale(0.92,1)" font-size="26" text-anchor="middle" stroke="#fdeef3" stroke-width="0.6">R</text><text class="al" transform="translate(1263.63,253.75) rotate(14.65) scale(0.92,1)" font-size="26" text-anchor="middle" stroke="#fdeef3" stroke-width="0.6">O</text><text class="al" transform="translate(1286.34,256.49) rotate(-0.91) scale(0.92,1)" font-size="26" text-anchor="middle" stroke="#fdeef3" stroke-width="0.6">D</text><text class="al" transform="translate(1308.31,253.22) rotate(-16.01) scale(0.92,1)" font-size="26" text-anchor="middle" stroke="#fdeef3" stroke-width="0.6">U</text><text class="al" transform="translate(1328.66,244.34) rotate(-31.11) scale(0.92,1)" font-size="26" text-anchor="middle" stroke="#fdeef3" stroke-width="0.6">C</text><text class="al" transform="translate(1345.08,231.42) rotate(-45.31) scale(0.92,1)" font-size="26" text-anchor="middle" stroke="#fdeef3" stroke-width="0.6">T</text></g>
<text x="1285" y="191.5" font-size="54.5" font-weight="bold" fill="#ad2d61" text-anchor="middle" transform="translate(1285,0) scale(0.79,1) translate(-1285,0)" stroke="#8e1f4c" stroke-width="2.4">GMP</text>
<circle cx="1285" cy="402.5" r="95.3" fill="none" stroke="#3c0a1e" stroke-opacity="0.3" stroke-width="7.5"/>
<circle cx="1285" cy="402.5" r="95.3" fill="none" stroke="#fdeef3" stroke-width="4.8"/>
<circle cx="1285" cy="402.5" r="55.8" fill="#3c0a1e" fill-opacity="0.3"/>
<circle cx="1285" cy="402.5" r="54.6" fill="#fffbfc"/>
<polygon points="1215.00,369.80 1217.41,375.68 1223.75,376.16 1218.90,380.27 1220.41,386.44 1215.00,383.10 1209.59,386.44 1211.10,380.27 1206.25,376.16 1212.59,375.68"/><polygon points="1209.20,393.30 1211.61,399.18 1217.95,399.66 1213.10,403.77 1214.61,409.94 1209.20,406.60 1203.79,409.94 1205.30,403.77 1200.45,399.66 1206.79,399.18"/><polygon points="1215.00,416.80 1217.41,422.68 1223.75,423.16 1218.90,427.27 1220.41,433.44 1215.00,430.10 1209.59,433.44 1211.10,427.27 1206.25,423.16 1212.59,422.68"/><polygon points="1355.00,369.80 1357.41,375.68 1363.75,376.16 1358.90,380.27 1360.41,386.44 1355.00,383.10 1349.59,386.44 1351.10,380.27 1346.25,376.16 1352.59,375.68"/><polygon points="1360.80,393.30 1363.21,399.18 1369.55,399.66 1364.70,403.77 1366.21,409.94 1360.80,406.60 1355.39,409.94 1356.90,403.77 1352.05,399.66 1358.39,399.18"/><polygon points="1355.00,416.80 1357.41,422.68 1363.75,423.16 1358.90,427.27 1360.41,433.44 1355.00,430.10 1349.59,433.44 1351.10,427.27 1346.25,423.16 1352.59,422.68"/>
<g class="arcg"><text class="al" transform="translate(1252.04,344.74) rotate(-29.71) scale(0.98,1)" font-size="23" text-anchor="middle" stroke="#fdeef3" stroke-width="0.6">S</text><text class="al" transform="translate(1267.66,338.30) rotate(-15.12) scale(0.98,1)" font-size="23" text-anchor="middle" stroke="#fdeef3" stroke-width="0.6">U</text><text class="al" transform="translate(1285.64,336.00) rotate(0.55) scale(0.98,1)" font-size="23" text-anchor="middle" stroke="#fdeef3" stroke-width="0.6">G</text><text class="al" transform="translate(1303.57,338.65) rotate(16.22) scale(0.98,1)" font-size="23" text-anchor="middle" stroke="#fdeef3" stroke-width="0.6">A</text><text class="al" transform="translate(1319.59,345.71) rotate(31.35) scale(0.98,1)" font-size="23" text-anchor="middle" stroke="#fdeef3" stroke-width="0.6">R</text></g>
<g class="arcg"><text class="al" transform="translate(1261.13,483.56) rotate(16.41) scale(0.82,1)" font-size="26" text-anchor="middle" stroke="#fdeef3" stroke-width="0.6">F</text><text class="al" transform="translate(1277.68,486.68) rotate(4.97) scale(0.82,1)" font-size="26" text-anchor="middle" stroke="#fdeef3" stroke-width="0.6">R</text><text class="al" transform="translate(1295.12,486.39) rotate(-6.88) scale(0.82,1)" font-size="26" text-anchor="middle" stroke="#fdeef3" stroke-width="0.6">E</text><text class="al" transform="translate(1311.56,482.72) rotate(-18.32) scale(0.82,1)" font-size="26" text-anchor="middle" stroke="#fdeef3" stroke-width="0.6">E</text></g>
<g transform="translate(1230,347.5) scale(0.073333)" fill="none" stroke="#631330" stroke-width="40" stroke-linecap="round" stroke-linejoin="round"><path d="M245,885 C300,720 440,640 575,645 C720,650 860,730 910,870" stroke-width="42"/><path d="M170,885 L975,885 C960,1100 780,1185 575,1188 C380,1190 185,1100 170,885 Z" fill="#a6255a" stroke="#7a1d3d" stroke-width="34"/><path d="M935,880 C1040,700 1170,520 1390,380" stroke="#7a1d3d" stroke-width="46"/><g fill="#3a0a18" stroke="none"><circle cx="550" cy="720" r="20"/><circle cx="490" cy="800" r="20"/><circle cx="690" cy="825" r="20"/></g></g>
<circle cx="1285" cy="633" r="95.3" fill="none" stroke="#3c0a1e" stroke-opacity="0.3" stroke-width="7.5"/>
<circle cx="1285" cy="633" r="95.3" fill="none" stroke="#fdeef3" stroke-width="4.8"/>
<circle cx="1285" cy="633" r="55.8" fill="#3c0a1e" fill-opacity="0.3"/>
<circle cx="1285" cy="633" r="54.6" fill="#fffbfc"/>
<polygon points="1215.00,600.30 1217.41,606.18 1223.75,606.66 1218.90,610.77 1220.41,616.94 1215.00,613.60 1209.59,616.94 1211.10,610.77 1206.25,606.66 1212.59,606.18"/><polygon points="1209.20,623.80 1211.61,629.68 1217.95,630.16 1213.10,634.27 1214.61,640.44 1209.20,637.10 1203.79,640.44 1205.30,634.27 1200.45,630.16 1206.79,629.68"/><polygon points="1215.00,647.30 1217.41,653.18 1223.75,653.66 1218.90,657.77 1220.41,663.94 1215.00,660.60 1209.59,663.94 1211.10,657.77 1206.25,653.66 1212.59,653.18"/><polygon points="1355.00,600.30 1357.41,606.18 1363.75,606.66 1358.90,610.77 1360.41,616.94 1355.00,613.60 1349.59,616.94 1351.10,610.77 1346.25,606.66 1352.59,606.18"/><polygon points="1360.80,623.80 1363.21,629.68 1369.55,630.16 1364.70,634.27 1366.21,640.44 1360.80,637.10 1355.39,640.44 1356.90,634.27 1352.05,630.16 1358.39,629.68"/><polygon points="1355.00,647.30 1357.41,653.18 1363.75,653.66 1358.90,657.77 1360.41,663.94 1355.00,660.60 1349.59,663.94 1351.10,657.77 1346.25,653.66 1352.59,653.18"/>
<g class="arcg"><text class="al" transform="translate(1247.98,577.76) rotate(-33.83) scale(0.98,1)" font-size="23" text-anchor="middle" stroke="#fdeef3" stroke-width="0.6">V</text><text class="al" transform="translate(1262.76,570.33) rotate(-19.54) scale(0.98,1)" font-size="23" text-anchor="middle" stroke="#fdeef3" stroke-width="0.6">E</text><text class="al" transform="translate(1280.16,566.68) rotate(-4.17) scale(0.98,1)" font-size="23" text-anchor="middle" stroke="#fdeef3" stroke-width="0.6">G</text><text class="al" transform="translate(1298.52,567.89) rotate(11.73) scale(0.98,1)" font-size="23" text-anchor="middle" stroke="#fdeef3" stroke-width="0.6">A</text><text class="al" transform="translate(1315.28,573.79) rotate(27.09) scale(0.98,1)" font-size="23" text-anchor="middle" stroke="#fdeef3" stroke-width="0.6">N</text></g>
<g class="arcg"><text class="al" transform="translate(1226.30,693.78) rotate(44.00) scale(0.92,1)" font-size="26" text-anchor="middle" stroke="#fdeef3" stroke-width="0.6">P</text><text class="al" transform="translate(1243.35,706.52) rotate(29.53) scale(0.92,1)" font-size="26" text-anchor="middle" stroke="#fdeef3" stroke-width="0.6">R</text><text class="al" transform="translate(1264.33,714.93) rotate(14.16) scale(0.92,1)" font-size="26" text-anchor="middle" stroke="#fdeef3" stroke-width="0.6">O</text><text class="al" transform="translate(1286.79,717.48) rotate(-1.21) scale(0.92,1)" font-size="26" text-anchor="middle" stroke="#fdeef3" stroke-width="0.6">D</text><text class="al" transform="translate(1308.48,714.17) rotate(-16.13) scale(0.92,1)" font-size="26" text-anchor="middle" stroke="#fdeef3" stroke-width="0.6">U</text><text class="al" transform="translate(1328.59,705.39) rotate(-31.05) scale(0.92,1)" font-size="26" text-anchor="middle" stroke="#fdeef3" stroke-width="0.6">C</text><text class="al" transform="translate(1344.82,692.68) rotate(-45.07) scale(0.92,1)" font-size="26" text-anchor="middle" stroke="#fdeef3" stroke-width="0.6">T</text></g>
<g transform="translate(1230,578) scale(0.073333)" fill="none" stroke="#631330" stroke-width="40" stroke-linecap="round" stroke-linejoin="round"><path d="M205,1098 C270,1190 420,1290 600,1322 C760,1345 930,1310 1030,1245 C1120,1180 1165,1060 1172,930 C1176,840 1172,760 1170,700" stroke-width="108"/><path d="M205,1098 C270,1190 420,1290 600,1322 C760,1345 930,1310 1030,1245 C1120,1180 1165,1060 1172,930 C1176,840 1172,760 1170,700" stroke="#fffbfc" stroke-width="30"/><path d="M1170,720 C1168,680 1160,640 1150,613" stroke-width="20"/><path d="M400,505 C340,600 300,700 300,800 C300,930 360,1040 450,1100 C540,1150 680,1150 800,1148 C850,1147 880,1146 905,1144" stroke-width="117"/><path d="M400,505 C340,600 300,700 300,800 C300,930 360,1040 450,1100 C540,1150 680,1150 800,1148 C850,1147 880,1146 905,1144" stroke="#fffbfc" stroke-width="37"/><path d="M500,400 C460,420 420,455 385,500" stroke-width="18"/><path d="M764,241 C620,230 470,250 405,305 C360,345 350,395 350,440"/><path d="M764,241 C720,300 690,350 660,400 C630,450 590,480 545,498"/><path d="M327,555 C250,500 215,400 268,295 C330,340 360,440 327,555 Z" fill="#fffbfc"/><path d="M305,645 C240,620 195,570 195,509 C250,520 300,570 305,645 Z" fill="#fffbfc"/><path d="M273,791 C200,770 165,720 164,650 C220,665 265,720 273,791 Z" fill="#fffbfc"/><path d="M377,618 C400,560 480,520 627,527 C600,590 540,625 377,618 Z" fill="#fffbfc"/><path d="M355,709 C380,670 440,650 523,655 C500,700 440,715 355,709 Z" fill="#fffbfc"/><path d="M350,791 C370,755 430,735 500,736 C480,780 430,795 350,791 Z" fill="#fffbfc"/><path d="M864,250 C1000,260 1180,330 1250,436 C1290,500 1300,560 1300,600"/><path d="M864,250 C900,300 910,420 940,527 C960,600 990,640 1040,680 C1080,705 1110,725 1145,745"/><path d="M1196,690 C1280,620 1340,580 1404,559 C1410,650 1370,760 1196,836" fill="#fffbfc"/><path d="M1196,850 C1280,820 1340,812 1400,813 C1390,900 1330,980 1196,990" fill="#fffbfc"/><path d="M1145,745 C1030,680 940,630 864,618 C860,700 900,800 990,850 C1050,870 1100,865 1145,860" fill="#fffbfc"/><path d="M1145,882 C1060,860 990,850 932,845 C940,930 980,1000 1030,1018 C1070,1025 1110,1010 1145,1005" fill="#fffbfc"/></g>
<circle cx="1285" cy="863.5" r="95.3" fill="none" stroke="#3c0a1e" stroke-opacity="0.3" stroke-width="7.5"/>
<circle cx="1285" cy="863.5" r="95.3" fill="none" stroke="#fdeef3" stroke-width="4.8"/>
<circle cx="1285" cy="863.5" r="55.8" fill="#3c0a1e" fill-opacity="0.3"/>
<circle cx="1285" cy="863.5" r="54.6" fill="#fffbfc"/>
<polygon points="1215.00,830.80 1217.41,836.68 1223.75,837.16 1218.90,841.27 1220.41,847.44 1215.00,844.10 1209.59,847.44 1211.10,841.27 1206.25,837.16 1212.59,836.68"/><polygon points="1209.20,854.30 1211.61,860.18 1217.95,860.66 1213.10,864.77 1214.61,870.94 1209.20,867.60 1203.79,870.94 1205.30,864.77 1200.45,860.66 1206.79,860.18"/><polygon points="1215.00,877.80 1217.41,883.68 1223.75,884.16 1218.90,888.27 1220.41,894.44 1215.00,891.10 1209.59,894.44 1211.10,888.27 1206.25,884.16 1212.59,883.68"/><polygon points="1355.00,830.80 1357.41,836.68 1363.75,837.16 1358.90,841.27 1360.41,847.44 1355.00,844.10 1349.59,847.44 1351.10,841.27 1346.25,837.16 1352.59,836.68"/><polygon points="1360.80,854.30 1363.21,860.18 1369.55,860.66 1364.70,864.77 1366.21,870.94 1360.80,867.60 1355.39,870.94 1356.90,864.77 1352.05,860.66 1358.39,860.18"/><polygon points="1355.00,877.80 1357.41,883.68 1363.75,884.16 1358.90,888.27 1360.41,894.44 1355.00,891.10 1349.59,894.44 1351.10,888.27 1346.25,884.16 1352.59,883.68"/>
<g class="arcg"><text class="al" transform="translate(1265.09,800.05) rotate(-17.42) scale(1.1,1)" font-size="23" text-anchor="middle" stroke="#fdeef3" stroke-width="0.6">G</text><text class="al" transform="translate(1286.53,797.02) rotate(1.32) scale(1.1,1)" font-size="23" text-anchor="middle" stroke="#fdeef3" stroke-width="0.6">M</text><text class="al" transform="translate(1307.80,801.03) rotate(20.06) scale(1.1,1)" font-size="23" text-anchor="middle" stroke="#fdeef3" stroke-width="0.6">O</text></g>
<g class="arcg"><text class="al" transform="translate(1261.65,944.71) rotate(16.04) scale(0.82,1)" font-size="26" text-anchor="middle" stroke="#fdeef3" stroke-width="0.6">F</text><text class="al" transform="translate(1276.84,947.61) rotate(5.54) scale(0.82,1)" font-size="26" text-anchor="middle" stroke="#fdeef3" stroke-width="0.6">R</text><text class="al" transform="translate(1292.91,947.63) rotate(-5.37) scale(0.82,1)" font-size="26" text-anchor="middle" stroke="#fdeef3" stroke-width="0.6">E</text><text class="al" transform="translate(1308.12,944.77) rotate(-15.88) scale(0.82,1)" font-size="26" text-anchor="middle" stroke="#fdeef3" stroke-width="0.6">E</text></g>
<g transform="translate(1230,808.5) scale(0.073333)" fill="none" stroke="#631330" stroke-width="40" stroke-linecap="round" stroke-linejoin="round"><path d="M505,95 C505,240 600,330 745,410 C900,500 988,600 988,735 C988,870 900,980 745,1062 C600,1145 505,1240 505,1390" stroke-linecap="butt" stroke-width="38"/><path d="M988,95 C988,240 890,330 745,410 C590,500 502,600 502,735 C502,870 590,980 745,1062 C890,1145 988,1240 988,1390" stroke-linecap="butt" stroke-width="38"/><path d="M630,235 H880 M635,620 H880 M590,745 H920 M630,875 H880 M630,1260 H880" stroke-width="42" stroke-linecap="butt"/></g>
<circle cx="1285" cy="1094" r="95.3" fill="none" stroke="#3c0a1e" stroke-opacity="0.3" stroke-width="7.5"/>
<circle cx="1285" cy="1094" r="95.3" fill="none" stroke="#fdeef3" stroke-width="4.8"/>
<circle cx="1285" cy="1094" r="55.8" fill="#3c0a1e" fill-opacity="0.3"/>
<circle cx="1285" cy="1094" r="54.6" fill="#fffbfc"/>
<polygon points="1215.00,1061.30 1217.41,1067.18 1223.75,1067.66 1218.90,1071.77 1220.41,1077.94 1215.00,1074.60 1209.59,1077.94 1211.10,1071.77 1206.25,1067.66 1212.59,1067.18"/><polygon points="1209.20,1084.80 1211.61,1090.68 1217.95,1091.16 1213.10,1095.27 1214.61,1101.44 1209.20,1098.10 1203.79,1101.44 1205.30,1095.27 1200.45,1091.16 1206.79,1090.68"/><polygon points="1215.00,1108.30 1217.41,1114.18 1223.75,1114.66 1218.90,1118.77 1220.41,1124.94 1215.00,1121.60 1209.59,1124.94 1211.10,1118.77 1206.25,1114.66 1212.59,1114.18"/><polygon points="1355.00,1061.30 1357.41,1067.18 1363.75,1067.66 1358.90,1071.77 1360.41,1077.94 1355.00,1074.60 1349.59,1077.94 1351.10,1071.77 1346.25,1067.66 1352.59,1067.18"/><polygon points="1360.80,1084.80 1363.21,1090.68 1369.55,1091.16 1364.70,1095.27 1366.21,1101.44 1360.80,1098.10 1355.39,1101.44 1356.90,1095.27 1352.05,1091.16 1358.39,1090.68"/><polygon points="1355.00,1108.30 1357.41,1114.18 1363.75,1114.66 1358.90,1118.77 1360.41,1124.94 1355.00,1121.60 1349.59,1124.94 1351.10,1118.77 1346.25,1114.66 1352.59,1114.18"/>
<g class="arcg"><text class="al" transform="translate(1246.97,1039.45) rotate(-34.88) scale(0.92,1)" font-size="23" text-anchor="middle" stroke="#fdeef3" stroke-width="0.6">N</text><text class="al" transform="translate(1259.94,1032.40) rotate(-22.14) scale(0.92,1)" font-size="23" text-anchor="middle" stroke="#fdeef3" stroke-width="0.6">A</text><text class="al" transform="translate(1272.98,1028.59) rotate(-10.41) scale(0.92,1)" font-size="23" text-anchor="middle" stroke="#fdeef3" stroke-width="0.6">T</text><text class="al" transform="translate(1286.53,1027.52) rotate(1.32) scale(0.92,1)" font-size="23" text-anchor="middle" stroke="#fdeef3" stroke-width="0.6">U</text><text class="al" transform="translate(1301.16,1029.49) rotate(14.06) scale(0.92,1)" font-size="23" text-anchor="middle" stroke="#fdeef3" stroke-width="0.6">R</text><text class="al" transform="translate(1314.99,1034.65) rotate(26.81) scale(0.92,1)" font-size="23" text-anchor="middle" stroke="#fdeef3" stroke-width="0.6">A</text><text class="al" transform="translate(1326.43,1041.98) rotate(38.54) scale(0.92,1)" font-size="23" text-anchor="middle" stroke="#fdeef3" stroke-width="0.6">L</text></g>
<g class="arcg"><text class="al" transform="translate(1259.05,1174.42) rotate(17.88) scale(0.85,1)" font-size="26" text-anchor="middle" stroke="#fdeef3" stroke-width="0.6">1</text><text class="al" transform="translate(1274.56,1177.85) rotate(7.10) scale(0.85,1)" font-size="26" text-anchor="middle" stroke="#fdeef3" stroke-width="0.6">0</text><text class="al" transform="translate(1290.44,1178.32) rotate(-3.69) scale(0.85,1)" font-size="26" text-anchor="middle" stroke="#fdeef3" stroke-width="0.6">0</text><text class="al" transform="translate(1309.67,1174.82) rotate(-16.98) scale(0.85,1)" font-size="26" text-anchor="middle" stroke="#fdeef3" stroke-width="0.6">%</text></g>
<g transform="translate(1230,1039) scale(0.073333)" fill="none" stroke="#631330" stroke-width="40" stroke-linecap="round" stroke-linejoin="round"><path d="M745,85 C620,200 505,420 505,690 L710,855 M745,85 C870,200 985,420 985,690 L780,855"/><path d="M745,330 L785,860 L705,860 Z" fill="#631330" stroke-width="20"/><path d="M150,530 C130,800 200,1100 420,1250 C520,1305 640,1310 690,1300"/><path d="M150,530 C200,650 300,700 420,740 C600,800 720,920 735,1100 L740,1250"/><path d="M340,960 C420,1120 530,1230 690,1295 M340,960 C450,1060 580,1170 720,1230"/><path d="M1340,530 C1360,800 1290,1100 1070,1250 C970,1305 850,1310 800,1300"/><path d="M1340,530 C1290,650 1190,700 1070,740 C890,800 770,920 755,1100 L750,1250"/><path d="M1150,960 C1070,1120 960,1230 800,1295 M1150,960 C1040,1060 910,1170 770,1230"/></g>
<circle cx="1285" cy="1325.5" r="95.3" fill="none" stroke="#3c0a1e" stroke-opacity="0.3" stroke-width="7.5"/>
<circle cx="1285" cy="1325.5" r="95.3" fill="none" stroke="#fdeef3" stroke-width="4.8"/>
<circle cx="1285" cy="1325.5" r="55.8" fill="#3c0a1e" fill-opacity="0.3"/>
<circle cx="1285" cy="1325.5" r="54.6" fill="#fffbfc"/>
<polygon points="1215.00,1292.80 1217.41,1298.68 1223.75,1299.16 1218.90,1303.27 1220.41,1309.44 1215.00,1306.10 1209.59,1309.44 1211.10,1303.27 1206.25,1299.16 1212.59,1298.68"/><polygon points="1209.20,1316.30 1211.61,1322.18 1217.95,1322.66 1213.10,1326.77 1214.61,1332.94 1209.20,1329.60 1203.79,1332.94 1205.30,1326.77 1200.45,1322.66 1206.79,1322.18"/><polygon points="1215.00,1339.80 1217.41,1345.68 1223.75,1346.16 1218.90,1350.27 1220.41,1356.44 1215.00,1353.10 1209.59,1356.44 1211.10,1350.27 1206.25,1346.16 1212.59,1345.68"/><polygon points="1355.00,1292.80 1357.41,1298.68 1363.75,1299.16 1358.90,1303.27 1360.41,1309.44 1355.00,1306.10 1349.59,1309.44 1351.10,1303.27 1346.25,1299.16 1352.59,1298.68"/><polygon points="1360.80,1316.30 1363.21,1322.18 1369.55,1322.66 1364.70,1326.77 1366.21,1332.94 1360.80,1329.60 1355.39,1332.94 1356.90,1326.77 1352.05,1322.66 1358.39,1322.18"/><polygon points="1355.00,1339.80 1357.41,1345.68 1363.75,1346.16 1358.90,1350.27 1360.41,1356.44 1355.00,1353.10 1349.59,1356.44 1351.10,1350.27 1346.25,1346.16 1352.59,1345.68"/>
<g class="arcg"><text class="al" transform="translate(1248.53,1269.89) rotate(-33.26) scale(0.98,1)" font-size="23" text-anchor="middle" stroke="#fdeef3" stroke-width="0.6">G</text><text class="al" transform="translate(1263.40,1262.61) rotate(-18.95) scale(0.98,1)" font-size="23" text-anchor="middle" stroke="#fdeef3" stroke-width="0.6">L</text><text class="al" transform="translate(1278.99,1259.27) rotate(-5.19) scale(0.98,1)" font-size="23" text-anchor="middle" stroke="#fdeef3" stroke-width="0.6">U</text><text class="al" transform="translate(1294.92,1259.74) rotate(8.58) scale(0.98,1)" font-size="23" text-anchor="middle" stroke="#fdeef3" stroke-width="0.6">T</text><text class="al" transform="translate(1309.71,1263.76) rotate(21.81) scale(0.98,1)" font-size="23" text-anchor="middle" stroke="#fdeef3" stroke-width="0.6">E</text><text class="al" transform="translate(1324.21,1271.79) rotate(36.13) scale(0.98,1)" font-size="23" text-anchor="middle" stroke="#fdeef3" stroke-width="0.6">N</text></g>
<g class="arcg"><text class="al" transform="translate(1259.58,1406.09) rotate(17.51) scale(0.82,1)" font-size="26" text-anchor="middle" stroke="#fdeef3" stroke-width="0.6">F</text><text class="al" transform="translate(1276.60,1409.58) rotate(5.70) scale(0.82,1)" font-size="26" text-anchor="middle" stroke="#fdeef3" stroke-width="0.6">R</text><text class="al" transform="translate(1294.58,1409.46) rotate(-6.51) scale(0.82,1)" font-size="26" text-anchor="middle" stroke="#fdeef3" stroke-width="0.6">E</text><text class="al" transform="translate(1311.56,1405.72) rotate(-18.32) scale(0.82,1)" font-size="26" text-anchor="middle" stroke="#fdeef3" stroke-width="0.6">E</text></g>
<g transform="translate(1230,1270.5) scale(0.073333)" fill="none" stroke="#631330" stroke-width="40" stroke-linecap="round" stroke-linejoin="round"><path d="M690,640 L800,640 L745,820 Z M690,915 L800,915 L745,1090 Z" fill="#631330" stroke="none"/><path d="M425,345 C430,523.75 560,620 745,620 C930,620 1060,523.75 1075,345 C930,355 810,425 745,545 C680,425 560,355 425,345 Z" fill="#fff"/><path d="M425,620 C430,798.75 560,895 745,895 C930,895 1060,798.75 1075,620 C930,630 810,700 745,820 C680,700 560,630 425,620 Z" fill="#fff"/><path d="M425,893 C430,1091.25 560,1198 745,1198 C930,1198 1060,1091.25 1075,893 C930,903 810,973 745,1093 C680,973 560,903 425,893 Z" fill="#fff"/><path d="M745,85 C620,200 620,440 745,545 C870,440 870,200 745,85 Z" fill="#fff"/><path d="M745,1200 V1390" stroke-width="55" stroke-linecap="butt"/></g>
</g></svg>
</body></html>
